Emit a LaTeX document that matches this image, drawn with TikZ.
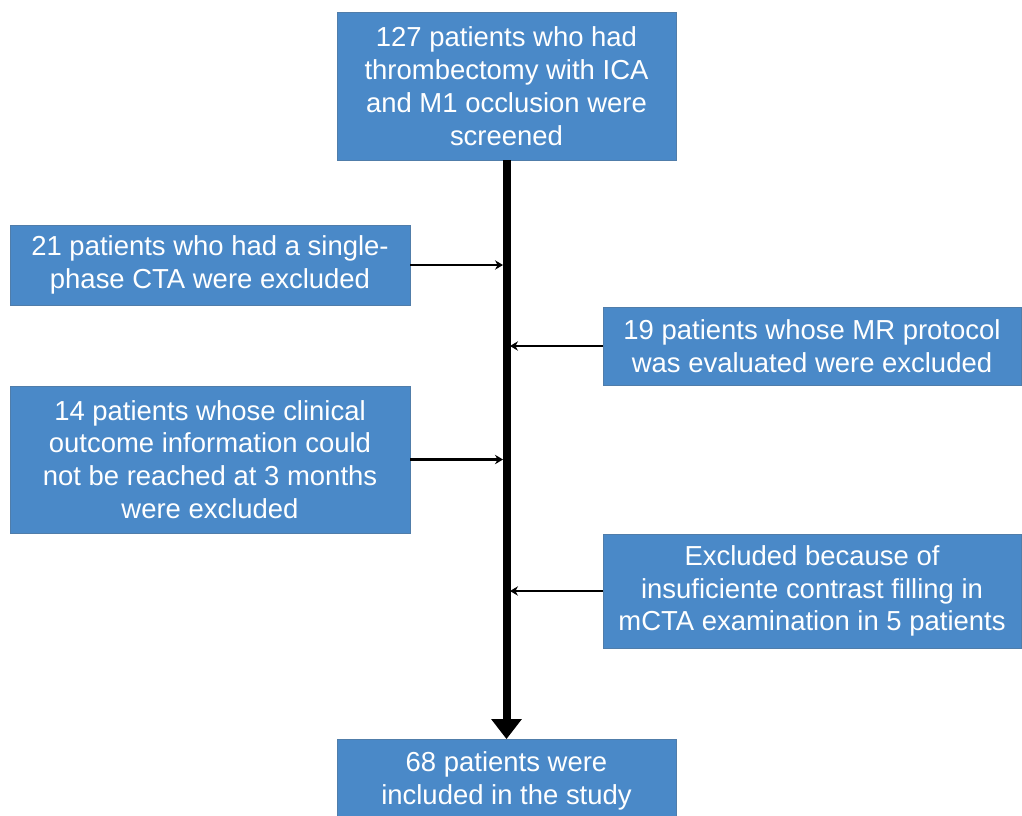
\documentclass[tikz,border=0pt]{standalone}
\usepackage{fontspec}
\setmainfont{Liberation Sans}
\usepackage{tikz}
\usetikzlibrary{arrows.meta}
\definecolor{BoxBlue}{RGB}{74,137,200}
\definecolor{BoxEdge}{RGB}{80,125,170}

\begin{document}
\begin{tikzpicture}[x=0.75pt,y=-0.75pt,
    flowbox/.style={draw=BoxEdge, line width=0.6pt, fill=BoxBlue, text=white, align=center,
        inner sep=0pt, font=\fontsize{20.6}{24.6}\selectfont},
    spine/.style={line width=6pt, arrows={-Triangle[length=15pt,width=22pt]}},
    side/.style={line width=2.1pt, arrows={-Stealth[length=6pt,width=7pt]}, shorten >=2.6pt}]
                    \useasboundingbox (0,0) rectangle (1022,815);
%                    boxes
                    \node[flowbox, minimum width=254.25pt, minimum height=111pt] (screened) at (506.5,86)
                        {127 patients who had\\thrombectomy with ICA\\and M1 occlusion were\\screened};
                    \node[flowbox, minimum width=300pt, minimum height=60pt] (single) at (210,265)
                        {21 patients who had a single-\\phase CTA were excluded};
                    \node[flowbox, minimum width=313.5pt, minimum height=58.5pt] (mrprot) at (812,346)
                        {19 patients whose MR protocol\\was evaluated were excluded};
                    \node[flowbox, minimum width=300pt, minimum height=110.25pt] (outcome) at (210,459.5)
                        {14 patients whose clinical\\outcome information could\\not be reached at 3 months\\were excluded};
                    \node[flowbox, minimum width=313.5pt, minimum height=85.5pt] (contrast) at (812,591)
                        {Excluded because of\\insuficiente contrast filling in\\mCTA examination in 5 patients};
                    \node[flowbox, minimum width=254.25pt, minimum height=61.5pt] (included) at (506.5,780.5)
                        {68 patients were\\included in the study};

%                    arrows
                    \draw[spine] (screened.south) -- (included.north);
                    \draw[side] (single.east) -- (single.east -| screened.south);
                    \draw[side] (mrprot.west) -- (mrprot.west -| screened.south);
                    \draw[side] (outcome.east) -- (outcome.east -| screened.south);
                    \draw[side] (contrast.west) -- (contrast.west -| screened.south);

                \end{tikzpicture}
\end{document}
